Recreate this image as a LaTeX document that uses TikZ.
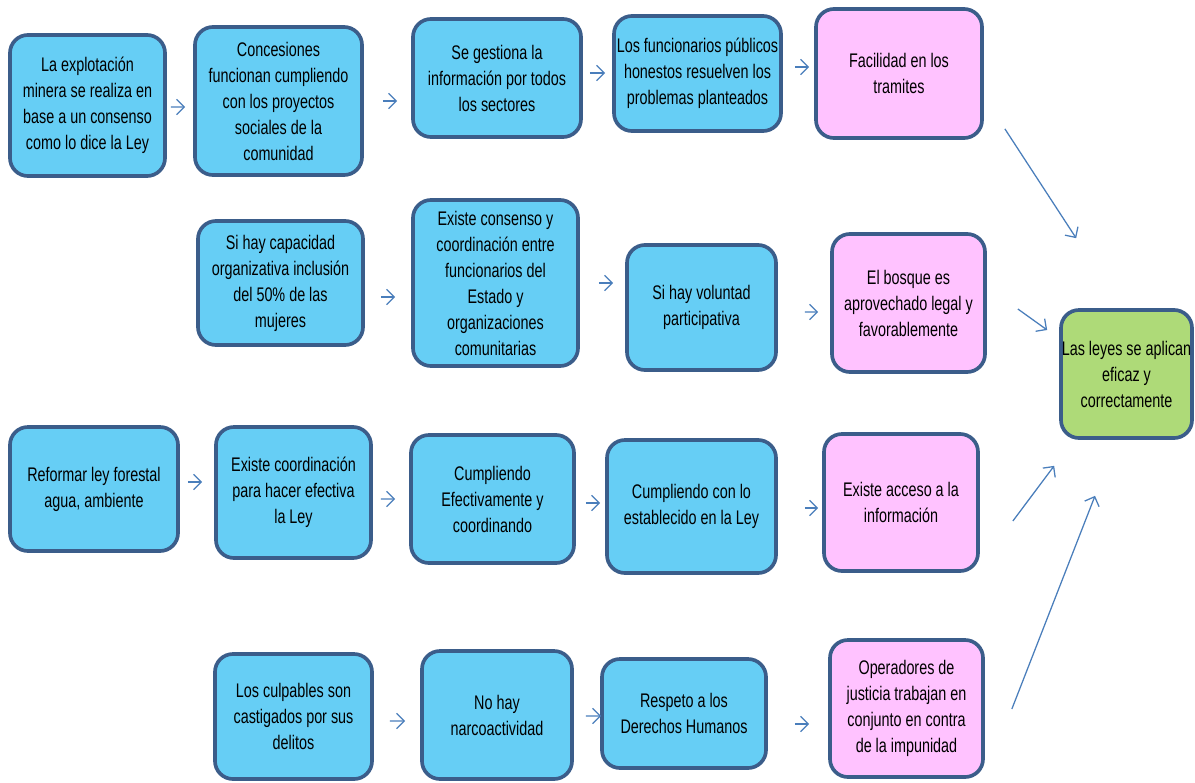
\documentclass[tikz,border=0pt]{standalone}
\usepackage{fontspec}
\setmainfont[FakeStretch=0.73]{Liberation Sans}
\usepackage{tikz}
\usetikzlibrary{arrows.meta}
\usepackage{xcolor}
\definecolor{celeste}{HTML}{66CEF5}
\definecolor{rosado}{HTML}{FFC2FF}
\definecolor{verdeclaro}{HTML}{AEDA78}
\definecolor{borde}{HTML}{3B5D8A}
\definecolor{azulflecha}{HTML}{4A7EBB}

\begin{document}
\begin{tikzpicture}[x=0.025cm,y=-0.025cm,
    caja/.style={draw=borde,line width=2.6pt,fill=celeste,rounded corners=0.45cm,
      align=center,inner sep=0pt,font=\fontsize{14}{18.5}\selectfont},
    rosa/.style={caja,fill=rosado},
    verde/.style={caja,fill=verdeclaro},
    flecha/.style={draw=azulflecha,line width=0.9pt,-{Straight Barb[length=5.5pt,width=11pt]}}]
      \useasboundingbox (0,0) rectangle (1195,782);
      % fila 1
      \node[caja,minimum width=3.875cm,minimum height=3.525cm] (A1) at (87.5,105.5)
        {La explotación\\minera se realiza en\\base a un consenso\\como lo dice la Ley};
      \node[caja,minimum width=4.175cm,minimum height=3.7cm] (A2) at (278.5,101)
        {Concesiones\\funcionan cumpliendo\\con los proyectos\\sociales de la\\comunidad};
      \node[caja,minimum width=4.2cm,minimum height=2.95cm] (A3) at (497,78)
        {Se gestiona la\\información por todos\\los sectores};
      \node[caja,minimum width=4.175cm,minimum height=2.875cm] (A4) at (697.5,73.5)
        {Los funcionarios públicos\\honestos resuelven los\\problemas planteados};
      \node[rosa,minimum width=4.15cm,minimum height=3.225cm] (A5) at (899,73.5)
        {Facilidad en los\\tramites};
      % fila 2
      \node[caja,minimum width=4.125cm,minimum height=3.1cm] (B1) at (280.5,283)
        {Si hay capacidad\\organizativa inclusión\\del 50\% de las\\mujeres};
      \node[caja,minimum width=4.125cm,minimum height=4.15cm] (B2) at (495.5,283)
        {Existe consenso y\\coordinación entre\\funcionarios del\\Estado y\\organizaciones\\comunitarias};
      \node[caja,minimum width=3.725cm,minimum height=3.125cm] (B3) at (701.5,307.5)
        {Si hay voluntad\\participativa};
      \node[rosa,minimum width=3.825cm,minimum height=3.45cm] (B4) at (908.5,303)
        {El bosque es\\aprovechado legal y\\favorablemente};
      \node[verde,minimum width=3.275cm,minimum height=3.2cm] (G) at (1126.5,374)
        {Las leyes se aplican\\eficaz y\\correctamente};
      % fila 3
      \node[caja,minimum width=4.2cm,minimum height=3.1cm] (C1) at (94,489)
        {Reformar ley forestal\\agua, ambiente};
      \node[caja,minimum width=3.875cm,minimum height=3.275cm] (C2) at (293.5,492.5)
        {Existe coordinación\\para hacer efectiva\\la Ley};
      \node[caja,minimum width=4.075cm,minimum height=3.2cm] (C3) at (492.5,499)
        {Cumpliendo\\Efectivamente y\\coordinando};
      \node[caja,minimum width=4.225cm,minimum height=3.325cm] (C4) at (691.5,506.5)
        {Cumpliendo con lo\\establecido en la Ley};
      \node[rosa,minimum width=3.85cm,minimum height=3.425cm] (C5) at (901,502.5)
        {Existe acceso a la\\información};
      % fila 4
      \node[caja,minimum width=3.925cm,minimum height=3.125cm] (D1) at (293.5,716.5)
        {Los culpables son\\castigados por sus\\delitos};
      \node[caja,minimum width=3.75cm,minimum height=3.2cm] (D2) at (497,715)
        {No hay\\narcoactividad};
      \node[caja,minimum width=4.1cm,minimum height=2.725cm] (D3) at (684,713.5)
        {Respeto a los\\Derechos Humanos};
      \node[rosa,minimum width=3.825cm,minimum height=3.425cm] (D4) at (906.5,708.5)
        {Operadores de\\justicia trabajan en\\conjunto en contra\\de la impunidad};
      % flechas
      \draw[flecha] ([shift={(4,1.5)}]A1.east) -- ([shift={(-8,6)}]A2.west);
      \draw[flecha] ([shift={(19,0)}]A2.east) -- ([shift={(-14,23)}]A3.west);
      \draw[flecha] ([shift={(7,-5)}]A3.east) -- ([shift={(-7,-0.5)}]A4.west);
      \draw[flecha] ([shift={(12,-6.5)}]A4.east) -- ([shift={(-5,-6.5)}]A5.west);
      \draw[flecha] ([shift={(16,14)}]B1.east) -- ([shift={(-16,14)}]B2.west);
      \draw[flecha] ([shift={(19,0)}]B2.east) -- ([shift={(-12,-24.5)}]B3.west);
      \draw[flecha] ([shift={(27,4.5)}]B3.east) -- ([shift={(-12,9)}]B4.west);
      \draw[flecha] ([shift={(8,-7)}]C1.east) -- ([shift={(-12,-10.5)}]C2.west);
      \draw[flecha] ([shift={(8,6.5)}]C2.east) -- ([shift={(-14,0)}]C3.west);
      \draw[flecha] ([shift={(10,4)}]C3.east) -- ([shift={(-5,-3.5)}]C4.west);
      \draw[flecha] ([shift={(27,1.5)}]C4.east) -- ([shift={(-4,5.5)}]C5.west);
      \draw[flecha] ([shift={(16,4.5)}]D1.east) -- ([shift={(-15,6)}]D2.west);
      \draw[flecha] ([shift={(12,1)}]D2.east) -- ([shift={(1,2.5)}]D3.west);
      \draw[flecha] ([shift={(27,10.5)}]D3.east) -- ([shift={(-19,15.5)}]D4.west);
      % hacia el resultado
      \draw[flecha] ([shift={(21,-11)}]A5.south east) -- ([shift={(17,-70)}]G.north west);
      \draw[flecha] ([shift={(31,6)}]B4.east) -- ([shift={(-12,-44)}]G.west);
      \draw[flecha] ([shift={(33,18.5)}]C5.east) -- ([shift={(-5,26)}]G.south west);
      \draw[flecha] ([shift={(27,0.5)}]D4.east) -- ([shift={(-31.5,56)}]G.south);
    \end{tikzpicture}
\end{document}
